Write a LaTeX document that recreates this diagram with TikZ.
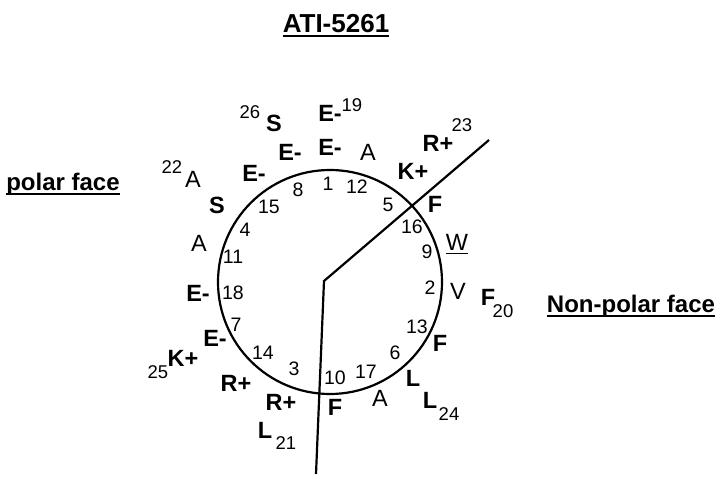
\documentclass[tikz,border=0pt]{standalone}
\usepackage{fontspec}
\setmainfont{Liberation Sans}
\usepackage{tikz}

\tikzset{
	res/.style={inner sep=0pt,font=\fontsize{23.5}{23.5}\selectfont\bfseries},
	resthin/.style={inner sep=0pt,font=\fontsize{23.5}{23.5}\selectfont},
	posnum/.style={inner sep=0pt,font=\fontsize{19.5}{19.5}\selectfont},
	supnum/.style={inner sep=0pt,font=\fontsize{18.5}{18.5}\selectfont},
	facelabel/.style={inner sep=0pt,anchor=base,font=\fontsize{24}{24}\selectfont\bfseries},
	uline/.style={line width=1.3pt}
}

\begin{document}
\begin{tikzpicture}[x=1pt,y=-1pt]
	\useasboundingbox (0,0) rectangle (724,481);

	%% Title and Faces %%
	\node [facelabel,font=\fontsize{26}{26}\selectfont\bfseries] (title) at (336,33) {ATI-5261};
	\draw [uline] ([yshift=-3pt]title.base west) -- ([yshift=-3pt]title.base east);
	\node [facelabel] (polar) at (63,191) {polar face};
	\draw [uline] ([yshift=-3pt]polar.base west) -- ([yshift=-3pt]polar.base east);
	\node [facelabel] (nonpolar) at (631,313) {Non-polar face};
	\draw [uline] ([yshift=-3pt]nonpolar.base west) -- ([yshift=-3pt]nonpolar.base east);

	%% Wheel %%
	\coordinate (c) at (330,282);
	\draw [line width=2.2pt] (c) circle (112);
	\coordinate (tail) at (316,474);
	\coordinate (knee) at (324,281);
	\coordinate (tip) at (489,140);
	\draw [line width=2.2pt] (tail) -- (knee) -- (tip);

	%% Positions %%
	\foreach \n/\x/\y in {1/328/184, 2/430/288, 3/294/369, 4/245/230, 5/388/205, 6/395/353, 7/236/325, 8/298/190, 9/427/252, 10/335/378, 11/233/257, 12/357/187, 13/417/327, 14/263/353, 15/269/207, 16/412/227, 17/366/372, 18/233/293}
		\node [posnum] (p\n) at (\x,\y) {\n};

	%% Residues %%
	\foreach \n/\t/\x/\y in {1/E-/330/147, 3/R+/281/402, 4/S/217/205, 5/K+/413/171, 6/L/413/378, 7/E-/215/338, 8/E-/290/152, 10/F/335/407, 13/F/440/343, 14/R+/236/383, 15/E-/254/173, 16/F/435/204, 18/E-/198/293, 19/E-/330/113, 20/F/488/297, 21/L/265/430, 23/R+/438/143, 24/L/430/400, 25/K+/183/358, 26/S/274/123}
		\node [res] (r\n) at (\x,\y) {\t};
	\foreach \n/\t/\x/\y in {2/V/458/291, 9/W/457/242, 11/A/199/243, 12/A/368/152, 17/A/380/398, 22/A/193/179}
		\node [resthin] (r\n) at (\x,\y) {\t};
	\draw [uline] ([yshift=-3pt]r9.south west) -- ([yshift=-3pt]r9.south east);

	%% Residue Numbers %%
	\foreach \n/\x/\y in {19/352/105, 20/503/311, 21/286/443, 22/172/167, 23/462/125, 24/449/414, 25/158/372, 26/250/112}
		\node [supnum] (s\n) at (\x,\y) {\n};

\end{tikzpicture}
\end{document}
